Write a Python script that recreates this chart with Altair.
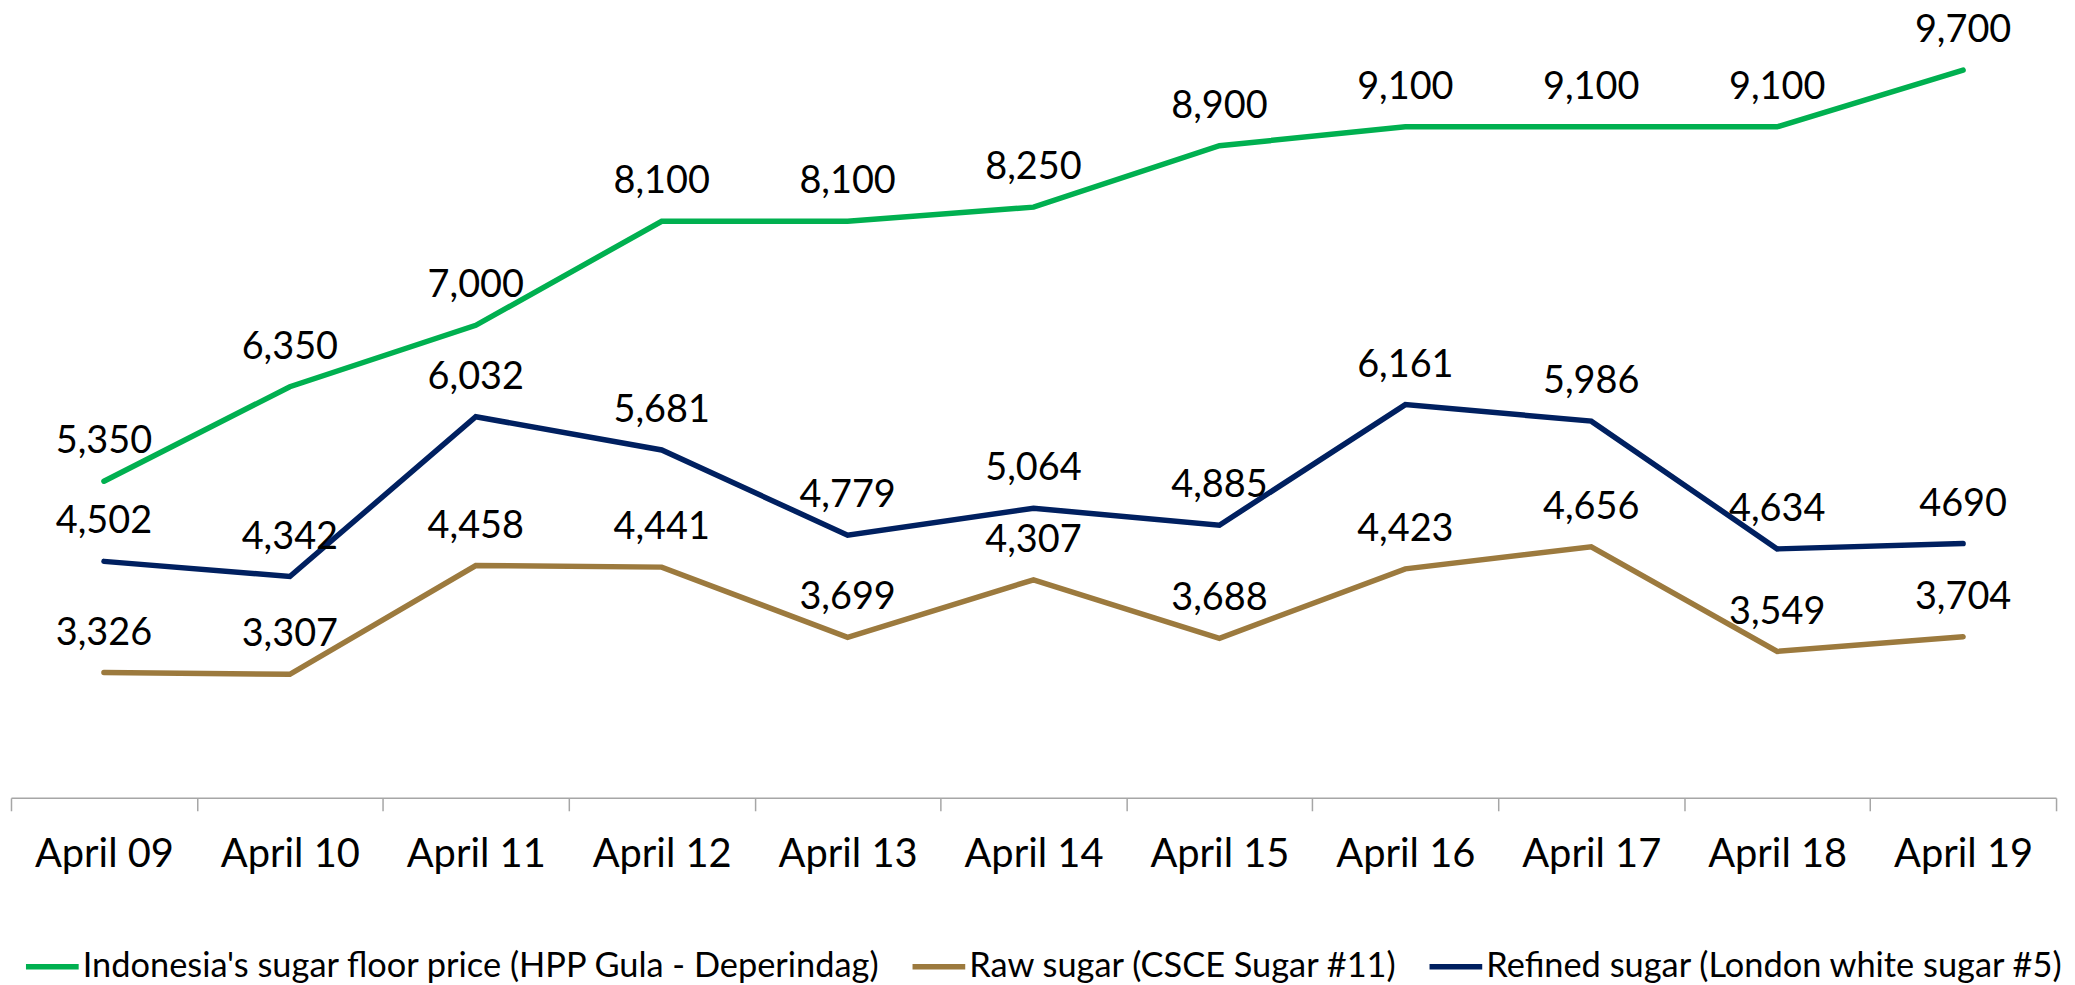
import altair as alt
import pandas as pd

dates = ["April 09", "April 10", "April 11", "April 12", "April 13", "April 14",
         "April 15", "April 16", "April 17", "April 18", "April 19"]
series = ["Indonesia's sugar floor price (HPP Gula - Deperindag)",
          "Raw sugar (CSCE Sugar #11)",
          "Refined sugar (London white sugar #5)"]
floor_price = [5350, 6350, 7000, 8100, 8100, 8250, 8900, 9100, 9100, 9100, 9700]
raw_sugar = [3326, 3307, 4458, 4441, 3699, 4307, 3688, 4423, 4656, 3549, 3704]
refined_sugar = [4502, 4342, 6032, 5681, 4779, 5064, 4885, 6161, 5986, 4634, 4690]
floor_labels = ["5,350", "6,350", "7,000", "8,100", "8,100", "8,250", "8,900", "9,100", "9,100", "9,100", "9,700"]
raw_labels = ["3,326", "3,307", "4,458", "4,441", "3,699", "4,307", "3,688", "4,423", "4,656", "3,549", "3,704"]
refined_labels = ["4,502", "4,342", "6,032", "5,681", "4,779", "5,064", "4,885", "6,161", "5,986", "4,634", "4690"]
colors = ["#00B050", "#9C7A3E", "#002060"]

rows = []
for name, vals, labs in zip(series, [floor_price, raw_sugar, refined_sugar],
                            [floor_labels, raw_labels, refined_labels]):
    for d, v, l in zip(dates, vals, labs):
        rows.append({"date": d, "series": name, "value": v, "label": l})
df = pd.DataFrame(rows)

x = alt.X("date:N", sort=dates, bandPosition=0.5,
          scale=alt.Scale(type="band", paddingInner=0, paddingOuter=0),
          axis=alt.Axis(title=None, tickBand="extent", labelAngle=0, labelFont="Lato",
                        labelFontSize=40, labelColor="#000000", labelPadding=24,
                        tickSize=13, tickColor="#a6a6a6", domainColor="#a6a6a6",
                        tickWidth=1.5, domainWidth=1.5, grid=False, labelOverlap=False))
y = alt.Y("value:Q", scale=alt.Scale(domain=[2000, 10000], nice=False, zero=False), axis=None)

lines = alt.Chart(df).mark_line(strokeWidth=5.5, strokeCap="round").encode(
    x=x, y=y,
    color=alt.Color("series:N", sort=series,
                    scale=alt.Scale(domain=series, range=colors),
                    legend=alt.Legend(title=None, orient="none", legendX=12, legendY=899,
                                      direction="horizontal", columns=3,
                                      symbolType="stroke", symbolStrokeWidth=5.5,
                                      symbolSize=2800, labelFont="Lato", labelFontSize=34.5,
                                      labelColor="#000000", labelOffset=1, columnPadding=20,
                                      labelLimit=0, padding=0)),
)

labels = alt.Chart(df).mark_text(font="Lato", fontSize=38, dy=-39, baseline="middle",
                                 color="#000000").encode(x=x, y=y, text="label:N")

chart = alt.layer(lines, labels).properties(
    width=2053, height=759,
    autosize=alt.AutoSizeParams(type="none"),
    padding={"left": 3, "top": 32, "right": 11, "bottom": 186},
).configure_view(stroke=None)

chart.save("out.html", embed_options={"renderer": "svg", "actions": False})
